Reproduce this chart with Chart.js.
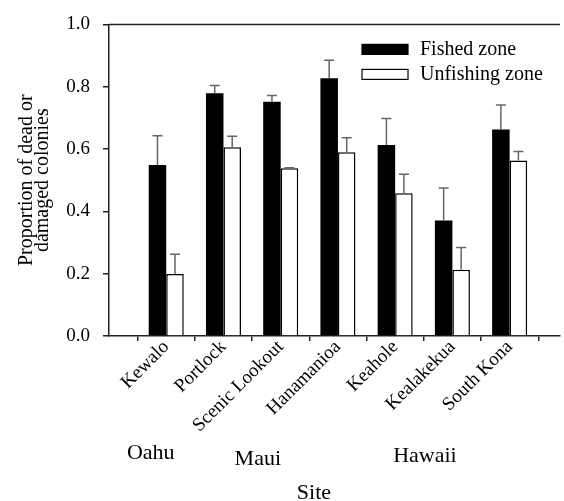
<!DOCTYPE html>
<html>
<head>
<meta charset="utf-8">
<script src="https://cdn.jsdelivr.net/npm/chart.js@4"></script>
<style>
  html, body { margin: 0; padding: 0; background: #fff; }
  #wrap { width: 564px; height: 501px; }
</style>
</head>
<body>
<div id="wrap"><canvas id="coralChart" width="564" height="501"></canvas></div>
<script>
// data
const sites = ['Kewalo', 'Portlock', 'Scenic Lookout', 'Hanamanioa', 'Keahole', 'Kealakekua', 'South Kona'];
const fished = [0.549, 0.779, 0.752, 0.827, 0.613, 0.371, 0.663];
const fishedErr = [0.094, 0.025, 0.020, 0.058, 0.085, 0.104, 0.078];
const unfished = [0.199, 0.606, 0.538, 0.590, 0.458, 0.213, 0.563];
const unfishedErr = [0.063, 0.035, 0.002, 0.046, 0.061, 0.071, 0.029];
const yTicks = [0, 0.2, 0.4, 0.6, 0.8, 1.0];
const islands = ['Oahu', 'Maui', 'Hawaii'];

const serif = 'Liberation Serif';
const axisColor = '#222';

const toPoints = (vals) => vals.map((v, i) => ({ x: i + 1, y: v }));

// upper error bars
const errorBars = {
  id: 'errorBars',
  afterDatasetsDraw(chart) {
    const c = chart.ctx;
    const yScale = chart.scales.y;
    const errs = [fishedErr, unfishedErr];
    c.save();
    c.strokeStyle = '#666';
    c.lineWidth = 1.5;
    chart.data.datasets.forEach((ds, di) => {
      const meta = chart.getDatasetMeta(di);
      meta.data.forEach((bar, i) => {
        const top = yScale.getPixelForValue(ds.data[i].y + errs[di][i]);
        c.beginPath();
        c.moveTo(bar.x, bar.y);
        c.lineTo(bar.x, top);
        c.moveTo(bar.x - 5, top);
        c.lineTo(bar.x + 5, top);
        c.stroke();
      });
    });
    c.restore();
  }
};

// top frame line, legend, island names, axis title
const extras = {
  id: 'extras',
  afterDraw(chart) {
    const c = chart.ctx;
    const a = chart.chartArea;
    const xs = chart.scales.x;
    c.save();
    c.strokeStyle = axisColor;
    c.lineWidth = 1.5;
    c.beginPath();
    c.moveTo(a.left, a.top);
    c.lineTo(a.right, a.top);
    c.stroke();

    // legend
    c.font = '20px "' + serif + '"';
    c.textBaseline = 'middle';
    chart.data.datasets.forEach((ds, i) => {
      const y = a.top + 25 + i * 25;
      c.fillStyle = ds.backgroundColor;
      c.fillRect(a.left + 253, y - 5, 46, 10);
      c.strokeStyle = '#000';
      c.lineWidth = 1.2;
      c.strokeRect(a.left + 253, y - 5, 46, 10);
      c.fillStyle = '#000';
      c.fillText(ds.label, a.left + 311, y);
    });

    // island names under the site labels
    const islandAt = [0.73, 2.6, 5.52];
    const islandDy = [117, 123, 120];
    c.font = '22px "' + serif + '"';
    c.textAlign = 'center';
    islands.forEach((name, i) => {
      c.fillText(name, xs.getPixelForValue(islandAt[i]), a.bottom + islandDy[i]);
    });
    c.fillText('Site', xs.getPixelForValue(3.58), a.bottom + 157);
    c.restore();
  }
};

const ctx = document.getElementById('coralChart').getContext('2d');
const coralChart = new Chart(ctx, {
  type: 'bar',
  data: {
    datasets: [
      {
        label: 'Fished zone',
        data: toPoints(fished),
        backgroundColor: '#000',
        borderColor: '#000',
        borderWidth: 0
      },
      {
        label: 'Unfishing zone',
        data: toPoints(unfished),
        backgroundColor: '#fff',
        borderColor: '#000',
        borderWidth: 1.5
      }
    ]
  },
  plugins: [errorBars, extras],
  options: {
    responsive: false,
    animation: false,
    categoryPercentage: 0.612,
    barPercentage: 1.0,
    layout: { padding: { top: 19, right: 4, left: 0, bottom: 0 } },
    plugins: {
      legend: { display: false },
      tooltip: { enabled: false }
    },
    scales: {
      x: {
        type: 'linear',
        offset: false,
        min: 0,
        max: 7.88,
        afterBuildTicks: (s) => {
          s.ticks = [{ value: 0 }].concat(sites.map((_, i) => ({ value: i + 1 })));
        },
        afterFit: (s) => { s.height = 165; },
        ticks: {
          autoSkip: false,
          minRotation: 45,
          maxRotation: 45,
          color: '#000',
          padding: -5,
          font: { family: serif, size: 19 },
          callback: (v) => sites[v - 1] || ''
        },
        grid: {
          drawOnChartArea: false,
          tickLength: 5,
          color: axisColor,
          lineWidth: 1.5
        },
        border: { color: axisColor, width: 1.5 }
      },
      y: {
        min: 0,
        max: 1,
        afterBuildTicks: (s) => { s.ticks = yTicks.map((v) => ({ value: v })); },
        afterFit: (s) => { s.width = 109; },
        ticks: {
          color: '#000',
          padding: 13,
          font: { family: serif, size: 19 },
          callback: (v) => v.toFixed(1)
        },
        grid: {
          drawOnChartArea: false,
          tickLength: 6,
          color: axisColor,
          lineWidth: 1.5
        },
        border: { color: axisColor, width: 1.5 },
        title: {
          display: true,
          text: ['Proportion of dead or', 'damaged colonies'],
          color: '#000',
          font: { family: serif, size: 20, lineHeight: 0.8 },
          padding: { top: 19, bottom: 0 }
        }
      }
    }
  }
});
</script>
</body>
</html>
